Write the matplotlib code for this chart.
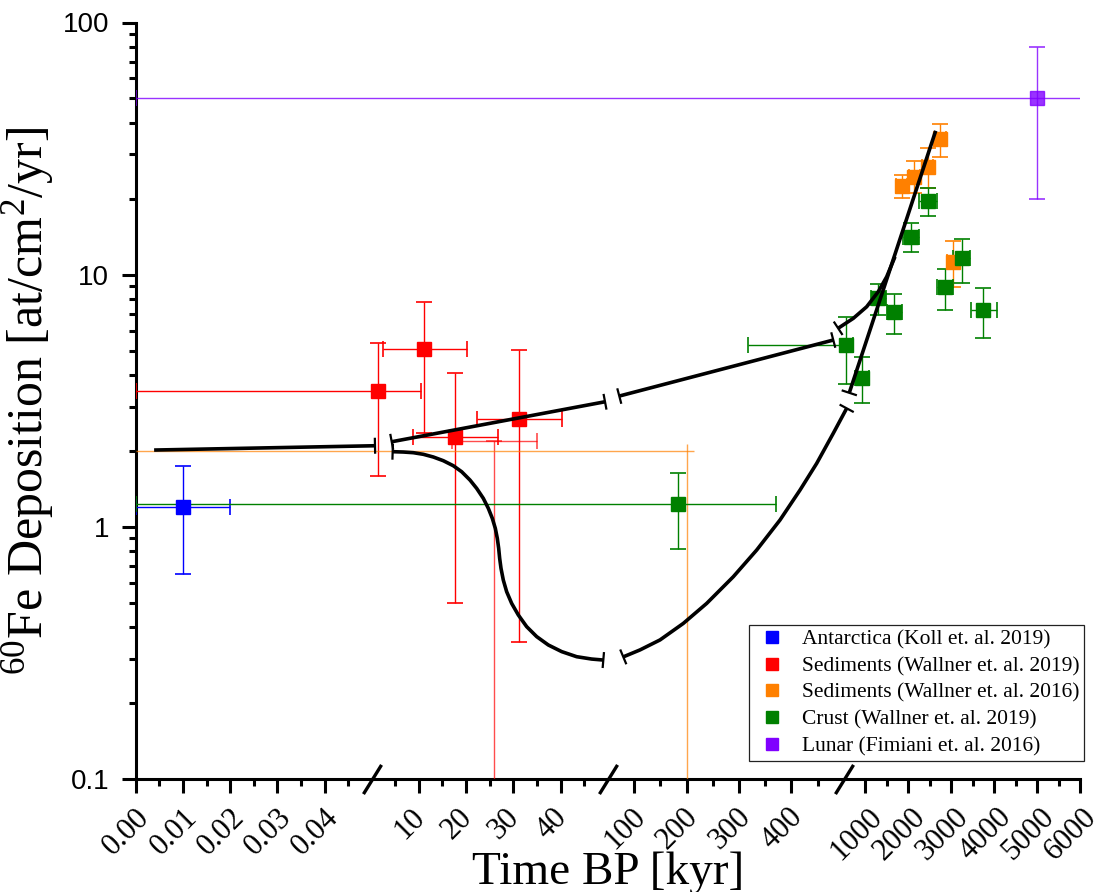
import numpy as np
import matplotlib
matplotlib.use('Agg')
import matplotlib.pyplot as plt
from matplotlib.lines import Line2D
from matplotlib.path import Path
import matplotlib.transforms as mtransforms

plt.rcParams['font.family'] = ['Liberation Serif', 'DejaVu Serif']
plt.rcParams['mathtext.fontset'] = 'custom'
plt.rcParams['mathtext.rm'] = 'Liberation Serif'
plt.rcParams['mathtext.it'] = 'Liberation Serif:italic'

# broken x axis (kyr): 0-0.05 | 0-50 | 50-500 | 500-6000
x_breaks = [0, 0.05, 50, 500, 6000]
xtick_major = [0, 0.01, 0.02, 0.03, 0.04, 10, 20, 30, 40,
               100, 200, 300, 400, 1000, 2000, 3000, 4000, 5000, 6000]
xtick_labels = ['0.00', '0.01', '0.02', '0.03', '0.04', '10', '20', '30', '40',
                '100', '200', '300', '400', '1000', '2000', '3000', '4000', '5000', '6000']
xtick_minor = [0.005, 0.015, 0.025, 0.035, 0.045, 5, 15, 25, 35, 45,
               150, 250, 350, 450, 1500, 2500, 3500, 4500, 5500]
ytick_major = [0.1, 1, 10, 100]
ytick_labels = ['0.1', '1', '10', '100']

# Antarctica (Koll 2019)
ant_x = [0.01]
ant_y = [1.2]
ant_xlo = [0.0]
ant_xhi = [0.02]
ant_ylo = [0.65]
ant_yhi = [1.74]

# Sediments (Wallner 2019)
sed19_x = [1.43, 11.16, 17.66, 31.26]
sed19_y = [3.47, 5.06, 2.28, 2.68]
sed19_xlo = [0.0, 2.36, 8.71, 22.25]
sed19_xhi = [10.46, 20.26, 26.69, 40.23]
sed19_ylo = [1.59, 2.35, 0.50, 0.35]
sed19_yhi = [5.34, 7.79, 4.07, 5.02]
# Sediments 2019, limit without marker
sed19l_x = [25.9]
sed19l_y = [2.19]
sed19l_xlo = [17.0]
sed19l_xhi = [35.0]
sed19l_ylo = [0.05]

# Sediments (Wallner 2016)
sed16_x = [1846, 2139, 2451, 2738, 3034]
sed16_y = [22.5, 24.4, 26.8, 34.4, 11.25]
sed16_xlo = [1716, 2009, 2321, 2608, 2904]
sed16_xhi = [1976, 2269, 2581, 2868, 3164]
sed16_ylo = [20.2, 21.0, 22.0, 29.2, 8.9]
sed16_yhi = [24.8, 28.2, 31.7, 39.5, 13.6]
# Sediments 2016, limit without marker
sed16l_x = [200]
sed16l_y = [2.0]
sed16l_xlo = [0.0]
sed16l_xhi = [214]
sed16l_ylo = [0.05]
sed16l_yhi = [2.13]

# Crust (Wallner 2019)
crust_x = [184, 548, 928, 1300, 1673, 2062, 2451, 2847, 3243, 3747]
crust_y = [1.23, 5.26, 3.90, 8.05, 7.13, 14.1, 19.6, 8.9, 11.6, 7.24]
crust_xlo = [0, 317, 758, 1123, 1496, 1883, 2256, 2661, 3048, 3453]
crust_xhi = [370, 718, 1091, 1480, 1860, 2256, 2661, 3034, 3437, 4059]
crust_ylo = [0.82, 3.68, 3.09, 6.9, 5.8, 12.3, 17.1, 7.24, 9.3, 5.59]
crust_yhi = [1.63, 6.8, 4.72, 9.15, 8.4, 16.0, 22.1, 10.5, 13.8, 8.85]

# Lunar (Fimiani 2016)
lun_x = [5000]
lun_y = [50]
lun_xlo = [0.0]
lun_xhi = [6500]
lun_ylo = [20]
lun_yhi = [80]

# schematic black curves
curve_a_x = [0.0039, 0.73]
curve_a_y = [2.016, 2.097]
curve_b_x = [4.27, 49.4]
curve_b_y = [2.175, 3.133]
curve_c_x = [71.8, 479.7]
curve_c_y = [3.301, 5.505]
curve_d_x = [489, 718, 1030, 1300, 1496, 1690]
curve_d_y = [6.13, 6.71, 7.46, 8.56, 9.81, 11.78]
curve_e_x = [625, 2638]
curve_e_y = [3.40, 37.2]
curve_f_x = [4.47, 6.73, 8.84, 10.96, 13.07, 15.19, 17.30, 19.07, 20.83, 22.24,
             23.65, 24.71, 25.56, 26.19, 26.61, 26.90, 27.11, 27.39, 27.88, 28.59,
             29.65, 31.06, 32.82, 34.94, 37.40, 40.23, 43.40, 46.57, 49.04]
curve_f_y = [1.986, 1.980, 1.968, 1.939, 1.892, 1.829, 1.747, 1.654, 1.533, 1.421,
             1.297, 1.184, 1.080, 0.986, 0.900, 0.822, 0.750, 0.685, 0.615, 0.553,
             0.497, 0.447, 0.402, 0.367, 0.340, 0.320, 0.3055, 0.299, 0.2963]
curve_g_x = [79.4, 111.3, 149.4, 193.8, 238.4, 289.1, 333.7, 378.1, 416.3, 448.1, 479.7, 564]
curve_g_y = [0.305, 0.325, 0.356, 0.414, 0.497, 0.634, 0.809, 1.064, 1.399, 1.785, 2.349, 2.951]

labels = ['Antarctica (Koll et. al. 2019)', 'Sediments (Wallner et. al. 2019)',
          'Sediments (Wallner et. al. 2016)', 'Crust (Wallner et. al. 2019)',
          'Lunar (Fimiani et. al. 2016)']
colors = ['#0000FF', '#FF0000', '#FF8000', '#008000', '#8000FF']


def fwd(x):
    x = np.asarray(x, dtype=float)
    b = np.array(x_breaks, dtype=float)
    u = np.interp(x, b, np.arange(len(b)))
    u = np.where(x > b[-1], len(b) - 1 + (x - b[-1]) / (b[-1] - b[-2]), u)
    u = np.where(x < b[0], (x - b[0]) / (b[1] - b[0]), u)
    return u


def inv(u):
    u = np.asarray(u, dtype=float)
    b = np.array(x_breaks, dtype=float)
    x = np.interp(u, np.arange(len(b)), b)
    x = np.where(u > len(b) - 1, b[-1] + (u - len(b) + 1) * (b[-1] - b[-2]), x)
    x = np.where(u < 0, b[0] + u * (b[1] - b[0]), x)
    return x


def series(ax, x, y, xlo, xhi, ylo, yhi, color, marker=True, capsize=5.5, alpha=1.0):
    x = np.array(x); y = np.array(y)
    xerr = [x - np.array(xlo), np.array(xhi) - x]
    yerr = [y - np.array(ylo), np.array(yhi) - y]
    ax.errorbar(x, y, xerr=xerr, yerr=yerr, fmt='s' if marker else 'none',
                ms=9.5, color=color, ecolor=color, elinewidth=1.0,
                capsize=capsize, capthick=1.2, alpha=alpha, zorder=3)


def end_bar(ax, xs, ys, at_end, half=8.0):
    # short bar across the end of a curve, drawn perpendicular on screen
    tr = ax.transData
    pts = tr.transform(np.column_stack([xs, ys]))
    p, q = (pts[-1], pts[-2]) if at_end else (pts[0], pts[1])
    d = (p - q) / np.hypot(*(p - q))
    n = np.array([-d[1], d[0]]) * half
    seg = tr.inverted().transform(np.array([p + n, p - n]))
    ax.plot(seg[:, 0], seg[:, 1], color='k', lw=1.6, solid_capstyle='butt', zorder=5)


fig = plt.figure(figsize=(11.03, 8.92), dpi=100)
ax = fig.add_axes([135.7 / 1103, 113 / 892, 944.3 / 1103, 756.5 / 892])
ax.set_xscale('function', functions=(fwd, inv))
ax.set_yscale('log')
ax.set_xlim(x_breaks[0], x_breaks[-1])
ax.set_ylim(0.1, 100)

series(ax, ant_x, ant_y, ant_xlo, ant_xhi, ant_ylo, ant_yhi, colors[0])
series(ax, sed19_x, sed19_y, sed19_xlo, sed19_xhi, sed19_ylo, sed19_yhi, colors[1])
series(ax, sed19l_x, sed19l_y, sed19l_xlo, sed19l_xhi, sed19l_ylo, sed19l_y, colors[1],
       marker=False, alpha=0.7)
series(ax, sed16_x, sed16_y, sed16_xlo, sed16_xhi, sed16_ylo, sed16_yhi, colors[2])
series(ax, sed16l_x, sed16l_y, sed16l_xlo, sed16l_xhi, sed16l_ylo, sed16l_yhi, colors[2],
       marker=False, capsize=0, alpha=0.7)
series(ax, crust_x, crust_y, crust_xlo, crust_xhi, crust_ylo, crust_yhi, colors[3])
series(ax, lun_x, lun_y, lun_xlo, lun_xhi, lun_ylo, lun_yhi, colors[4], alpha=0.8)

curves = [(curve_a_x, curve_a_y, False, True),
          (curve_b_x, curve_b_y, True, True),
          (curve_c_x, curve_c_y, True, True),
          (curve_d_x, curve_d_y, True, False),
          (curve_e_x, curve_e_y, True, False),
          (curve_f_x, curve_f_y, True, True),
          (curve_g_x, curve_g_y, True, True)]
for cx, cy, bar0, bar1 in curves:
    ax.plot(cx, cy, color='k', lw=2.6, solid_capstyle='butt',
            solid_joinstyle='round', zorder=4)
    if bar0:
        end_bar(ax, cx, cy, False)
    if bar1:
        end_bar(ax, cx, cy, True)

for s in ['top', 'right']:
    ax.spines[s].set_visible(False)
for s in ['left', 'bottom']:
    ax.spines[s].set_linewidth(2.2)

ax.set_xticks(xtick_major, xtick_labels)
ax.set_xticks(xtick_minor, minor=True)
ax.set_yticks(ytick_major, ytick_labels)
ax.yaxis.set_minor_formatter(matplotlib.ticker.NullFormatter())
ax.tick_params(which='major', length=10, width=2.2, direction='out')
ax.tick_params(which='minor', length=5, width=2.2, direction='out')
ax.tick_params(axis='x', which='major', pad=7, labelsize=22,
               labelfontfamily='Liberation Serif', labelrotation=45)
ax.tick_params(axis='y', which='major', pad=9, labelsize=20,
               labelfontfamily='Liberation Sans')
shift = mtransforms.ScaledTranslation(-9 / 100, 0, fig.dpi_scale_trans)
for lab in ax.get_xticklabels():
    lab.set_horizontalalignment('center')
    lab.set_transform(lab.get_transform() + shift)

# axis break marks
slash = Path([(-0.31, -0.5), (0.31, 0.5)])
trans = mtransforms.blended_transform_factory(ax.transData, ax.transAxes)
for xb in x_breaks[1:-1]:
    ax.plot([xb], [0], transform=trans, marker=slash, ms=21, mew=2.4,
            mfc='none', mec='k', clip_on=False, zorder=6)

ax.set_xlabel('Time BP [kyr]', fontsize=34)
ax.set_ylabel(r'$^{60}$Fe Deposition [at/cm$^{2}$/yr]', fontsize=36)
ax.xaxis.set_label_coords(0.5, -0.096)
ax.yaxis.set_label_coords(-0.084, 0.5)

handles = [Line2D([], [], ls='none', marker='s', ms=8.5, color=c) for c in colors]
leg = ax.legend(handles, labels, loc='upper right', fontsize=15.5,
                bbox_to_anchor=(1084.3 / 1103, 1 - 625 / 892),
                bbox_transform=fig.transFigure, borderaxespad=0,
                fancybox=False, framealpha=1, edgecolor='#222222',
                borderpad=0.2, handlelength=1.8, handletextpad=0.5, labelspacing=0.31)
leg.get_frame().set_linewidth(0.9)

fig.savefig('out.png', dpi=100)
